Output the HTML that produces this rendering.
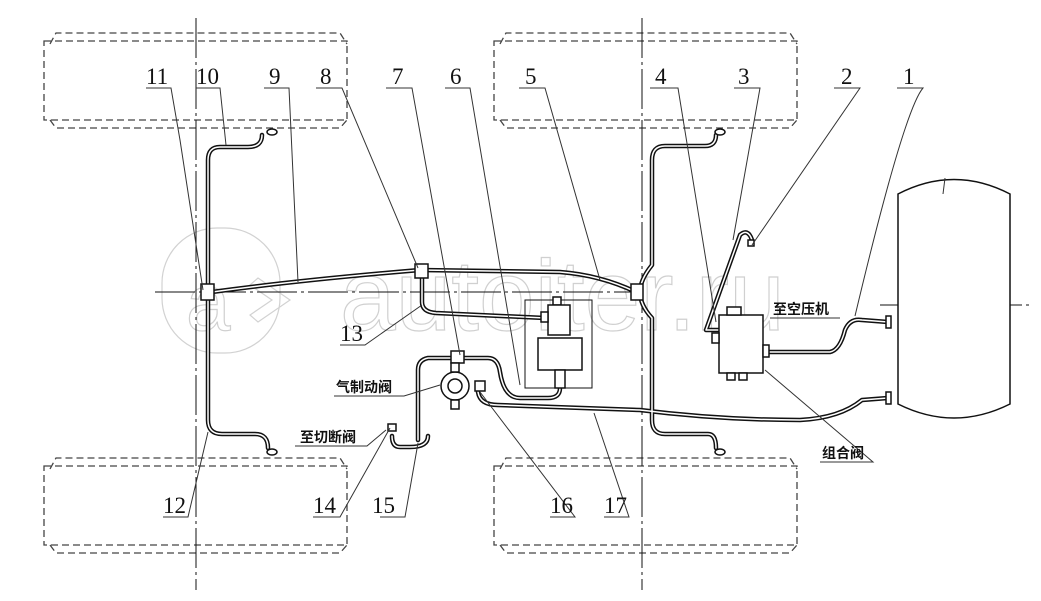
<!DOCTYPE html>
<html><head><meta charset="utf-8"><style>
html,body{margin:0;padding:0;background:#fff;}
svg{display:block;}
.num{font-family:"Liberation Serif",serif;font-size:23px;fill:#111;}
.cn{font-family:"Liberation Sans","Noto Sans CJK SC",sans-serif;font-size:14px;font-weight:bold;fill:#111;}
</style></head><body>
<svg width="1041" height="601" viewBox="0 0 1041 601" xmlns="http://www.w3.org/2000/svg">
<defs>
<g id="tire" fill="none" stroke="#444" stroke-width="1.3" stroke-dasharray="7,4">
<path d="M50 44 L56 33 L340 33 L347 44"/>
<path d="M44 41 L347 41 L347 120 L44 120 Z"/>
<path d="M50 120 L56 128 L340 128 L347 120"/>
</g>
<g id="pipes">
<path d="M262 135 Q262 147 248 147 L220 147 Q208 147 208 160 L208 420 Q208 434 222 434 L255 434 Q268 434 268 448"/>
<path d="M212 292 Q300 280 420 270 L560 272 Q600 275 636 292"/>
<path d="M422 275 L422 302 Q422 312 436 313 L545 318"/>
<path d="M716 135 Q716 146 705 146 L665 146 Q652 146 652 160 L652 265 Q640 280 640 292 Q640 305 652 318 L652 420 Q652 434 665 434 L708 434 Q716 434 716 448"/>
<path d="M722 330 L706 330 L740 235 Q748 228 752 240"/>
<path d="M764 352 L830 352 Q840 350 845 330 Q850 318 862 320 L888 322"/>
<path d="M478 392 Q480 405 498 405 L640 410 Q720 420 800 420 Q840 418 862 400 L888 398"/>
<path d="M428 436 Q428 447 410 447 L400 447 Q392 447 392 436 M418 440 L418 370 Q418 360 428 358 L488 358 Q498 358 500 372 Q504 398 520 398 L548 398 Q560 398 560 388"/>
</g>
</defs>
<!-- watermark -->
<g fill="none" stroke="#d2d2d2" stroke-width="1.2">
<rect x="162" y="228" width="118" height="125" rx="55"/>
<text x="340" y="330" font-family="Liberation Sans,sans-serif" font-size="100" fill="none" stroke="#d0d0d0">autoiter.ru</text>
<text x="186" y="330" font-family="Liberation Sans,sans-serif" font-size="80" fill="none" stroke="#d0d0d0">a</text>
<path d="M258 278 L290 300 L258 322 L250 315 L272 300 L250 285 Z"/>
</g>
<!-- tires -->
<use href="#tire"/>
<use href="#tire" x="450"/>
<use href="#tire" y="425"/>
<use href="#tire" x="450" y="425"/>
<!-- center lines -->
<g stroke="#111" stroke-width="1" fill="none">
<line x1="196" y1="18" x2="196" y2="590" stroke-dasharray="40,4,3,4"/>
<line x1="642" y1="18" x2="642" y2="590" stroke-dasharray="40,4,3,4"/>
<line x1="155" y1="292" x2="640" y2="292" stroke-dasharray="40,4,3,4"/>
<line x1="880" y1="305" x2="1032" y2="305" stroke-dasharray="40,4,3,4"/>
</g>
<!-- pipes -->
<g fill="none" stroke-linecap="round" stroke-linejoin="round">
<use href="#pipes" stroke="#111" stroke-width="4.5"/>
<use href="#pipes" stroke="#fff" stroke-width="1.5"/>
</g>
<!-- fittings -->
<g fill="#fff" stroke="#111" stroke-width="1.5">
<rect x="201" y="284" width="13" height="16"/>
<rect x="415" y="264" width="13" height="14"/>
<rect x="631" y="284" width="12" height="16"/>
<rect x="451" y="351" width="13" height="12"/>
<ellipse cx="272" cy="132" rx="5" ry="3"/>
<ellipse cx="720" cy="132" rx="5" ry="3"/>
<ellipse cx="272" cy="452" rx="5" ry="3"/>
<ellipse cx="720" cy="452" rx="5" ry="3"/>
<rect x="748" y="240" width="6" height="6"/>
<rect x="886" y="316" width="5" height="12"/>
<rect x="886" y="392" width="5" height="12"/>
<rect x="388" y="424" width="8" height="7"/>
<rect x="525" y="300" width="67" height="88" fill="none" stroke-width="1"/>
<rect x="553" y="297" width="8" height="8"/>
<rect x="548" y="305" width="22" height="30"/>
<rect x="541" y="312" width="7" height="10"/>
<rect x="538" y="338" width="44" height="32"/>
<rect x="555" y="370" width="10" height="18"/>
<circle cx="455" cy="386" r="14"/>
<circle cx="455" cy="386" r="7"/>
<rect x="451" y="363" width="8" height="9"/>
<rect x="451" y="400" width="8" height="9"/>
<rect x="475" y="381" width="10" height="10"/>
<rect x="719" y="315" width="44" height="58"/>
<rect x="727" y="307" width="14" height="8"/>
<rect x="712" y="333" width="7" height="10"/>
<rect x="763" y="345" width="6" height="12"/>
<rect x="727" y="373" width="8" height="7"/>
<rect x="739" y="373" width="8" height="7"/>
<path d="M898 194 Q954 165 1010 194 L1010 404 Q954 432 898 404 Z"/>
</g>
<!-- leader lines -->
<g stroke="#333" stroke-width="1" fill="none">
<path d="M146 88 L171 88 L180 140 L203 290"/>
<path d="M196 88 L220 88 L226 145"/>
<path d="M264 88 L289 88 L298 282"/>
<path d="M316 88 L342 88 L418 268"/>
<path d="M386 88 L412 88 L460 355"/>
<path d="M445 88 L470 88 L520 385"/>
<path d="M519 88 L545 88 L600 280"/>
<path d="M650 88 L678 88 L716 322"/>
<path d="M734 88 L760 88 L733 240"/>
<path d="M834 88 L860 88 L752 245"/>
<path d="M897 88 L923 88 Q904 110 855 316"/>
<path d="M340 345 L365 345 L422 305"/>
<path d="M163 517 L188 517 L208 432"/>
<path d="M313 517 L340 517 L390 428"/>
<path d="M380 517 L405 517 L418 443"/>
<path d="M550 517 L575 517 L480 392"/>
<path d="M604 517 L629 517 L594 413"/>
<path d="M334 396 L404 396 L440 385"/>
<path d="M295 446 L367 446 L386 430"/>
<path d="M770 318 L840 318"/>
<path d="M820 462 L873 462 L765 370"/>
<path d="M945 178 L943 194"/>
</g>
<g class="num">
<text x="146" y="84">11</text><text x="196" y="84">10</text><text x="269" y="84">9</text>
<text x="320" y="84">8</text><text x="392" y="84">7</text><text x="450" y="84">6</text>
<text x="525" y="84">5</text><text x="655" y="84">4</text><text x="738" y="84">3</text>
<text x="841" y="84">2</text><text x="903" y="84">1</text>
<text x="340" y="341">13</text>
<text x="163" y="513">12</text><text x="313" y="513">14</text><text x="372" y="513">15</text>
<text x="550" y="513">16</text><text x="604" y="513">17</text>
</g>
<g class="cn">
<text x="336" y="392">气制动阀</text>
<text x="300" y="442">至切断阀</text>
<text x="773" y="314">至空压机</text>
<text x="822" y="458">组合阀</text>
</g>
</svg>
</body></html>
